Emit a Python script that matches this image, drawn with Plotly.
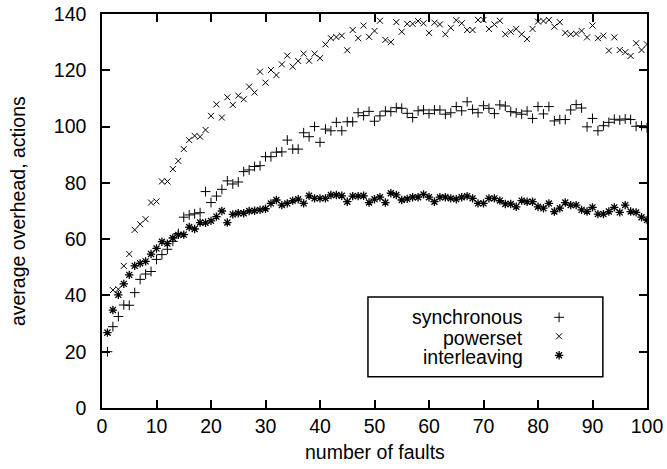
import plotly.graph_objects as go

faults = list(range(1, 101))

synchronous = [
    20.0, 28.9, 32.5, 36.6, 36.5, 41.0, 45.7, 47.6, 48.5, 52.8,
    54.5, 56.4, 59.2, 62.0, 67.8, 68.6, 69.0, 69.4, 76.9, 73.0,
    75.3, 77.7, 80.7, 79.6, 80.3, 84.0, 84.6, 85.8, 86.1, 89.3,
    89.3, 90.9, 91.0, 95.2, 92.0, 92.0, 97.8, 96.4, 100.0, 94.4,
    99.1, 98.5, 101.5, 98.5, 101.7, 101.7, 104.9, 103.9, 105.4, 101.9,
    103.8, 105.5, 105.3, 106.7, 106.5, 104.7, 103.2, 105.6, 105.9, 104.6,
    105.9, 105.9, 104.4, 104.9, 107.1, 105.6, 108.8, 106.1, 104.9, 107.4,
    106.5, 104.6, 107.7, 107.3, 105.3, 104.9, 104.4, 105.5, 102.9, 107.1,
    104.5, 107.1, 102.0, 102.5, 102.5, 105.9, 107.8, 106.6, 99.9, 102.9,
    98.5, 100.3, 101.5, 102.6, 102.3, 102.7, 102.5, 100.1, 100.3, 99.6,
]

powerset = [
    26.8, 41.9, 42.2, 50.5, 54.7, 63.3, 65.3, 67.1, 73.0, 73.4,
    80.5, 80.5, 84.9, 87.8, 92.0, 95.2, 96.7, 96.4, 98.8, 103.8,
    107.9, 103.2, 110.4, 107.7, 111.0, 109.7, 114.2, 112.1, 119.5, 115.6,
    120.1, 118.3, 122.1, 125.2, 121.3, 123.3, 125.9, 123.4, 125.9, 124.3,
    129.2, 131.4, 131.8, 132.3, 127.1, 134.3, 131.4, 135.9, 131.9, 134.0,
    137.6, 130.8, 130.0, 137.1, 133.7, 136.5, 136.5, 137.5, 136.7, 133.3,
    136.9, 136.3, 132.8, 135.1, 137.8, 136.7, 134.3, 134.3, 137.9, 137.9,
    134.7, 136.3, 137.6, 132.8, 133.7, 134.7, 132.8, 131.1, 134.7, 137.3,
    137.5, 137.9, 135.5, 137.1, 133.3, 132.8, 133.0, 134.0, 131.7, 135.9,
    131.4, 132.3, 127.0, 131.7, 127.2, 126.4, 125.1, 129.6, 127.2, 129.2,
]

interleaving = [
    26.8, 34.8, 40.2, 44.1, 47.3, 50.5, 51.4, 52.1, 54.7, 56.7,
    59.1, 58.4, 60.4, 61.5, 61.6, 64.3, 63.6, 65.9, 65.8, 66.5,
    68.0, 70.0, 65.9, 68.8, 69.2, 69.2, 70.0, 70.1, 70.4, 70.8,
    72.7, 73.9, 72.1, 72.7, 73.7, 74.2, 72.7, 75.4, 74.5, 74.5,
    74.5, 75.7, 75.7, 75.4, 73.3, 75.3, 75.3, 75.4, 73.0, 74.2,
    74.9, 73.0, 76.3, 75.7, 73.9, 74.3, 74.9, 74.9, 75.9, 74.9,
    73.3, 74.9, 74.9, 74.5, 74.2, 74.9, 75.3, 74.5, 72.7, 72.7,
    74.5, 74.5, 73.7, 72.5, 72.5, 71.5, 73.7, 73.3, 73.3, 71.5,
    71.0, 72.7, 69.8, 71.0, 73.0, 72.1, 72.1, 70.4, 69.8, 71.3,
    68.9, 68.9, 69.8, 71.3, 69.5, 72.1, 69.8, 69.5, 67.8, 66.8,
]

series_names = ["synchronous", "powerset", "interleaving"]
x_ticks = list(range(0, 101, 10))
y_ticks = list(range(0, 141, 20))

fig = go.Figure()
fig.add_trace(go.Scatter(x=faults, y=synchronous, mode="markers", name=series_names[0],
                         marker=dict(symbol="cross-thin-open", size=7, color="black",
                                     line=dict(width=1, color="black"))))
fig.add_trace(go.Scatter(x=faults, y=powerset, mode="markers", name=series_names[1],
                         marker=dict(symbol="x-thin-open", size=6, color="black",
                                     line=dict(width=1, color="black"))))
fig.add_trace(go.Scatter(x=faults, y=interleaving, mode="markers", name=series_names[2],
                         marker=dict(symbol="asterisk-open", size=7, color="black",
                                     line=dict(width=1.3, color="black"))))

axis_style = dict(showline=True, linecolor="black", linewidth=1.5, mirror="ticks",
                  ticks="inside", ticklen=8, tickwidth=1.5, tickcolor="black",
                  showgrid=False, zeroline=False, automargin=False)

fig.update_xaxes(range=[0, 100], tickvals=x_ticks, ticklabelstandoff=0, **axis_style)
fig.update_yaxes(range=[0, 140], tickvals=y_ticks, ticklabelstandoff=10, **axis_style)

# legend only supplies the marker samples (tiny hidden text so it doesn't push the margin)
fig.update_layout(
    width=667, height=469,
    margin=dict(l=102, r=20, t=14, b=61),
    plot_bgcolor="white", paper_bgcolor="white",
    font=dict(family="Liberation Sans, Arial, sans-serif", size=19.5, color="black"),
    showlegend=True,
    legend=dict(x=0.802, y=0.267, xanchor="left", yanchor="top",
                bgcolor="rgba(0,0,0,0)", borderwidth=0,
                font=dict(size=1, color="rgba(0,0,0,0)"), itemwidth=30),
)

# axis titles
fig.add_annotation(x=0.5, y=-0.112, xref="paper", yref="paper", text="number of faults",
                   showarrow=False, xanchor="center", yanchor="middle")
fig.add_annotation(x=-0.154, y=0.5, xref="paper", yref="paper",
                   text="average overhead, actions", textangle=-90,
                   showarrow=False, xanchor="center", yanchor="middle")

# gnuplot style key: text right aligned, sample on the right, box around it
row_y = [0.231, 0.178, 0.129]
for name, yy in zip(series_names, row_y):
    fig.add_annotation(x=0.776, y=yy, xref="paper", yref="paper", text=name,
                       showarrow=False, xanchor="right", yanchor="middle")

fig.add_shape(type="rect", xref="paper", yref="paper",
              x0=0.488, x1=0.919, y0=0.079, y1=0.282,
              line=dict(color="black", width=1.5))

# drop the default 8px body margin so the figure fills the window exactly
fig.write_html("out.html", config={"displayModeBar": False},
               post_script="document.body.style.margin = '0';")
